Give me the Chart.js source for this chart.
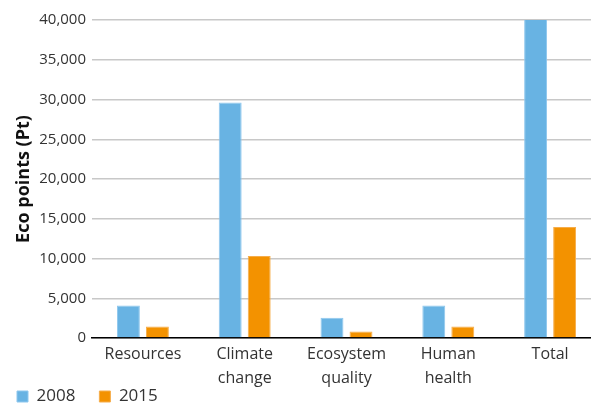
<!DOCTYPE html>
<html>
<head>
<meta charset="utf-8">
<script src="https://cdn.jsdelivr.net/npm/chart.js@4"></script>
<style>
  html, body { margin: 0; padding: 0; background: #fff; overflow: hidden; }
  #wrap { width: 601px; height: 405px; }
</style>
</head>
<body>
<div id="wrap"><canvas id="chart"></canvas></div>
<script>
const categories = ["Resources", ["Climate", "change"], ["Ecosystem", "quality"], ["Human", "health"], "Total"]
const values2008 = [4100, 29620, 2550, 4100, 40200]
const values2015 = [1450, 10300, 820, 1450, 13950]
const seriesNames = ["2008", "2015"]

const fontFamily = "'Open Sans', 'Noto Sans', sans-serif"
const textColor = "#333333"

// legend sits in the last few pixels under the two-line x labels,
// so squeeze its layout box and move it down before drawing
const legendPlacer = {
    id: "legendPlacer",
    beforeInit(chart) {
        const legend = chart.legend
        const fit = legend.fit.bind(legend)
        legend.fit = function () {
            fit()
            this.height = 14
        }
    },
    beforeDraw(chart) {
        const legend = chart.legend
        legend.top = chart.height - 41
        legend.bottom = chart.height
        legend.left = -7
    },
}

const ctx = document.getElementById("chart").getContext("2d")

new Chart(ctx, {
    type: "bar",
    data: {
        labels: categories,
        datasets: [
            {
                label: seriesNames[0],
                data: values2008,
                backgroundColor: "#68b3e3",
                borderColor: "#8ec7ee",
                borderWidth: 1,
            },
            {
                label: seriesNames[1],
                data: values2015,
                backgroundColor: "#f39200",
                borderColor: "#f6ad4a",
                borderWidth: 1,
            },
        ],
    },
    plugins: [legendPlacer],
    options: {
        responsive: true,
        maintainAspectRatio: false,
        animation: false,
        categoryPercentage: 0.57,
        barPercentage: 0.79,
        layout: {
            padding: { top: 20, right: 0, bottom: 0, left: 0 },
        },
        plugins: {
            tooltip: { enabled: false },
            legend: {
                position: "bottom",
                align: "start",
                labels: {
                    boxWidth: 11,
                    boxHeight: 11,
                    padding: 24,
                    color: textColor,
                    font: { family: fontFamily, size: 17 },
                },
            },
        },
        scales: {
            x: {
                grid: { display: false },
                border: { display: true, color: "#000", width: 1.5 },
                ticks: {
                    color: textColor,
                    font: { family: fontFamily, size: 16, lineHeight: 1.5 },
                    padding: -4,
                    maxRotation: 0,
                    autoSkip: false,
                },
                afterFit: (scale) => {
                    scale.height = 53
                },
            },
            y: {
                min: 0,
                max: 40000,
                border: { display: false },
                grid: { color: "#c8c8c8", lineWidth: 1.5, drawTicks: false },
                ticks: {
                    stepSize: 5000,
                    color: textColor,
                    padding: 6,
                    font: { family: fontFamily, size: 15 },
                    callback: (v) => v.toLocaleString("en-US"),
                },
                title: {
                    display: true,
                    text: "Eco points (Pt)",
                    color: "#111",
                    padding: { top: 13, bottom: 0 },
                    font: { family: fontFamily, size: 18, weight: "bold" },
                },
                afterFit: (scale) => {
                    scale.width = 92
                },
            },
        },
    },
})
</script>
</body>
</html>
